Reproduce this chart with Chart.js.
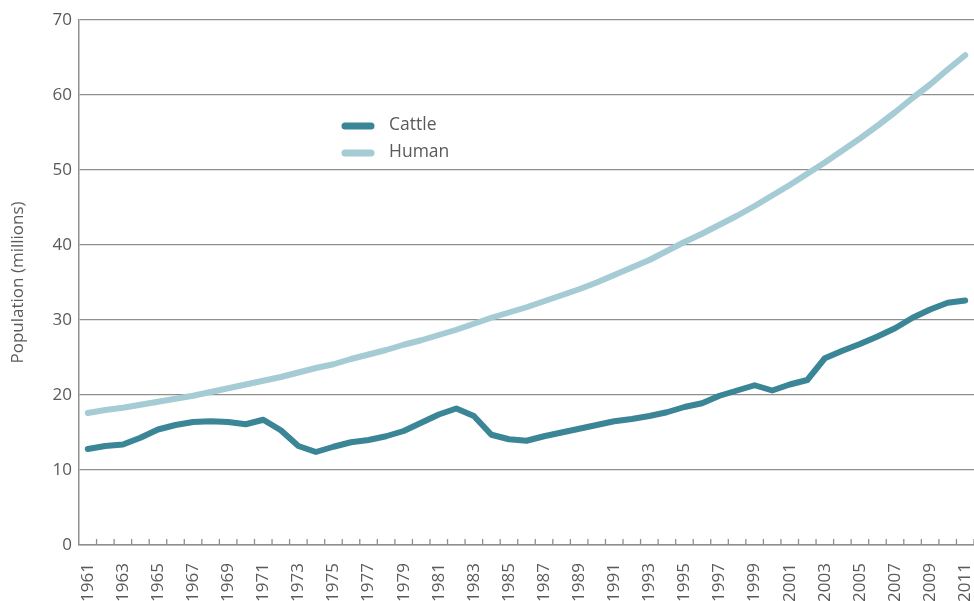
<!DOCTYPE html>
<html>
<head>
<meta charset="utf-8">
<script src="https://cdn.jsdelivr.net/npm/chart.js@4.4.0/dist/chart.umd.min.js"></script>
<style>
  html, body { margin: 0; padding: 0; background: #fff; }
  #wrap { width: 974px; height: 601px; }
</style>
</head>
<body>
<div id="wrap"><canvas id="popChart"></canvas></div>
<script>
// years 1961 - 2011
var years = [];
for (var y = 1961; y <= 2011; y++) years.push(String(y));

// cattle population (millions)
var cattle = [12.8, 13.2, 13.4, 14.3, 15.4, 16.0, 16.4, 16.5, 16.4, 16.1,
              16.7, 15.3, 13.2, 12.4, 13.1, 13.7, 14.0, 14.5, 15.2, 16.3,
              17.4, 18.2, 17.2, 14.7, 14.1, 13.9, 14.5, 15.0, 15.5, 16.0,
              16.5, 16.8, 17.2, 17.7, 18.4, 18.9, 19.9, 20.6, 21.3, 20.6,
              21.4, 22.0, 24.9, 25.9, 26.8, 27.8, 28.9, 30.3, 31.4, 32.3,
              32.6];

// human population (millions)
var human = [17.6, 18.0, 18.3, 18.7, 19.1, 19.5, 19.9, 20.4, 20.9, 21.4,
             21.9, 22.4, 23.0, 23.6, 24.1, 24.8, 25.4, 26.0, 26.7, 27.3,
             28.0, 28.7, 29.5, 30.3, 31.0, 31.7, 32.5, 33.3, 34.1, 35.0,
             36.0, 37.0, 38.0, 39.2, 40.4, 41.5, 42.7, 43.9, 45.2, 46.6,
             48.0, 49.5, 51.0, 52.6, 54.2, 55.9, 57.7, 59.6, 61.4, 63.4,
             65.3];

var yTicks = [0, 10, 20, 30, 40, 50, 60, 70];

var gridGray = '#8f8f8f';
var textGray = '#5a5a5a';
var fontName = 'Open Sans';

// legend drawn inside the plot, like the original
var floatLegend = {
    id: 'floatLegend',
    afterDraw: function(chart) {
        var ctx = chart.ctx;
        ctx.save();
        chart.data.datasets.forEach(function(ds, i) {
            var ly = 126 + i * 27;
            ctx.strokeStyle = ds.borderColor;
            ctx.lineWidth = 7;
            ctx.lineCap = 'round';
            ctx.beginPath();
            ctx.moveTo(345, ly);
            ctx.lineTo(371, ly);
            ctx.stroke();
            ctx.fillStyle = textGray;
            ctx.font = '17.5px "' + fontName + '"';
            ctx.textBaseline = 'middle';
            ctx.fillText(ds.label, 389, ly - 1);
        });
        ctx.restore();
    }
};

// small tick marks pointing up from the x axis, between the years
var innerTicks = {
    id: 'innerTicks',
    afterDatasetsDraw: function(chart) {
        var xs = chart.scales.x;
        var bottom = chart.chartArea.bottom;
        var step = xs.getPixelForValue(1) - xs.getPixelForValue(0);
        var ctx = chart.ctx;
        ctx.save();
        ctx.strokeStyle = gridGray;
        ctx.lineWidth = 1.3;
        ctx.beginPath();
        for (var i = 1; i <= years.length; i++) {
            var px = xs.getPixelForValue(i) - step / 2;
            ctx.moveTo(px, bottom);
            ctx.lineTo(px, bottom - 6);
        }
        ctx.stroke();
        ctx.restore();
    }
};

var chart = new Chart(document.getElementById('popChart'), {
    type: 'line',
    data: {
        labels: years,
        datasets: [{
                label: 'Cattle',
                data: cattle,
                borderColor: '#3a8596',
                borderWidth: 6,
                pointRadius: 0,
                borderCapStyle: 'round',
                borderJoinStyle: 'round',
                tension: 0
            },
            {
                label: 'Human',
                data: human,
                borderColor: '#a5cbd5',
                borderWidth: 6,
                pointRadius: 0,
                borderCapStyle: 'round',
                borderJoinStyle: 'round',
                tension: 0
            }
        ]
    },
    options: {
        responsive: true,
        maintainAspectRatio: false,
        animation: false,
        layout: { padding: { top: 20, right: 0, left: 0, bottom: 0 } },
        plugins: {
            legend: { display: false },
            tooltip: { enabled: false }
        },
        scales: {
            x: {
                offset: true,
                grid: {
                    display: false
                },
                border: { color: gridGray, width: 1.5 },
                ticks: {
                    autoSkip: false,
                    minRotation: 90,
                    maxRotation: 90,
                    padding: 10,
                    color: textGray,
                    font: { family: fontName, size: 17 },
                    callback: function(val, idx) {
                        return idx % 2 === 0 ? years[idx] : '';
                    }
                },
                afterFit: function(scale) {
                    scale.height = 56;
                    scale.paddingLeft = 0;
                    scale.paddingRight = 0;
                }
            },
            y: {
                min: 0,
                max: 70,
                afterBuildTicks: function(scale) {
                    scale.ticks = yTicks.map(function(v) { return { value: v }; });
                },
                grid: {
                    color: gridGray,
                    lineWidth: 1.3,
                    drawTicks: false
                },
                border: { display: true, color: gridGray, width: 1.5 },
                ticks: {
                    padding: 7,
                    color: textGray,
                    font: { family: fontName, size: 17 }
                },
                title: {
                    display: true,
                    text: 'Population (millions)',
                    color: textGray,
                    font: { family: fontName, size: 17 },
                    padding: { top: 8, bottom: 4 }
                },
                afterFit: function(scale) { scale.width = 79; }
            }
        }
    },
    plugins: [floatLegend, innerTicks]
});
</script>
</body>
</html>
